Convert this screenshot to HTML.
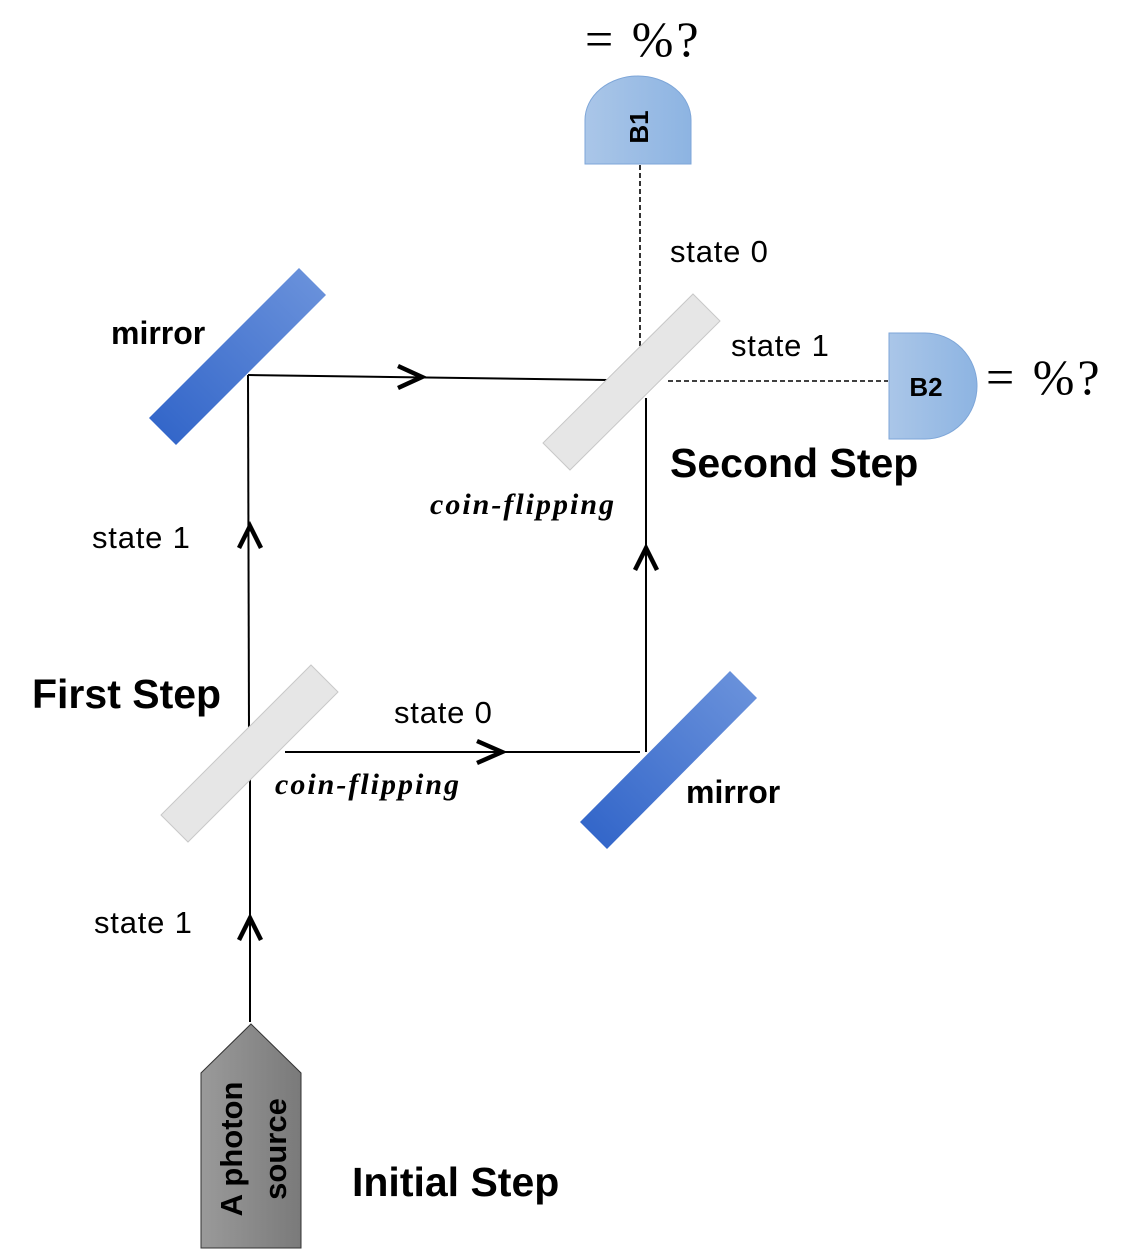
<!DOCTYPE html>
<html><head><meta charset="utf-8"><style>html,body{margin:0;padding:0;background:#fff}svg{display:block}</style></head><body>
<svg width="1123" height="1250" viewBox="0 0 1123 1250" xmlns="http://www.w3.org/2000/svg">
<defs>
<linearGradient id="mb" x1="0" y1="1" x2="1" y2="0"><stop offset="0" stop-color="#2f63c8"/><stop offset="1" stop-color="#6d94dc"/></linearGradient>
<linearGradient id="db" x1="0" y1="0" x2="1" y2="0"><stop offset="0" stop-color="#aac6e8"/><stop offset="1" stop-color="#8db4e2"/></linearGradient>
<linearGradient id="gs" x1="0" y1="0" x2="1" y2="0"><stop offset="0" stop-color="#9a9a9a"/><stop offset="1" stop-color="#7a7a7a"/></linearGradient>
</defs>
<g stroke="#000" stroke-width="2" fill="none">
<line x1="250" y1="1022" x2="250" y2="778"/>
<line x1="249" y1="732" x2="248" y2="375"/>
<line x1="248" y1="375" x2="607" y2="380"/>
<line x1="285" y1="752" x2="640" y2="752"/>
<line x1="646" y1="752" x2="646" y2="398"/>
<line x1="640" y1="165" x2="640" y2="350" stroke-dasharray="5,3" stroke-width="1.6"/>
<line x1="668" y1="381" x2="888" y2="381" stroke-dasharray="5,3" stroke-width="1.6"/>
</g>
<g stroke="#000" stroke-width="4.5" fill="none" stroke-linecap="butt">
<polyline points="239,940 250,918 261,940"/>
<polyline points="239,548 250,526 261,548"/>
<polyline points="635,570 646,548 657,570"/>
<polyline points="398,366 422,377 398,388"/>
<polyline points="477,741 502,752 477,763"/>
</g>
<polygon points="149,418 176,445 326,295 299,268" fill="url(#mb)"/>
<polygon points="580,822 607,849 757,698 730,671" fill="url(#mb)"/>
<polygon points="161,815 188,842 338,692 311,665" fill="#e6e6e6" stroke="#c8c8c8" stroke-width="1"/>
<polygon points="543,443 570,470 720,321 693,294" fill="#e6e6e6" stroke="#c8c8c8" stroke-width="1"/>
<path d="M585,164 V120 A53,44 0 0 1 691,120 V164 Z" fill="url(#db)" stroke="#7ea6d8" stroke-width="1"/>
<path d="M889,333 H925 A52,53 0 0 1 925,439 H889 Z" fill="url(#db)" stroke="#7ea6d8" stroke-width="1"/>
<polygon points="251,1024 301,1073 301,1248 201,1248 201,1073" fill="url(#gs)" stroke="#333" stroke-width="1"/>
<g font-family="Liberation Sans, sans-serif" fill="#000">
<text transform="translate(648 127) rotate(-90)" font-size="26" font-weight="bold" text-anchor="middle">B1</text>
<text x="926" y="396" font-size="26" font-weight="bold" text-anchor="middle">B2</text>
<text transform="translate(242 1149) rotate(-90)" font-size="31" font-weight="bold" text-anchor="middle">A photon</text>
<text transform="translate(286 1149) rotate(-90)" font-size="31" font-weight="bold" text-anchor="middle">source</text>
<g font-size="31" letter-spacing="0.8">
<text x="670" y="262">state 0</text>
<text x="731" y="356">state 1</text>
<text x="92" y="548">state 1</text>
<text x="394" y="723">state 0</text>
<text x="94" y="933">state 1</text>
</g>
<g font-size="32" font-weight="bold">
<text x="111" y="344">mirror</text>
<text x="686" y="803">mirror</text>
</g>
<g font-size="41" font-weight="bold">
<text x="670" y="477">Second Step</text>
<text x="32" y="708">First Step</text>
<text x="352" y="1196">Initial Step</text>
</g>
</g>
<g font-family="Liberation Serif, serif" font-style="italic" font-weight="bold" font-size="30" letter-spacing="2">
<text x="430" y="514">coin-flipping</text>
<text x="275" y="794">coin-flipping</text>
</g>
<g font-family="Liberation Serif, serif" font-size="50" letter-spacing="3">
<text x="585" y="56">= %?</text>
<text x="986" y="394">= %?</text>
</g>
</svg>
</body></html>
